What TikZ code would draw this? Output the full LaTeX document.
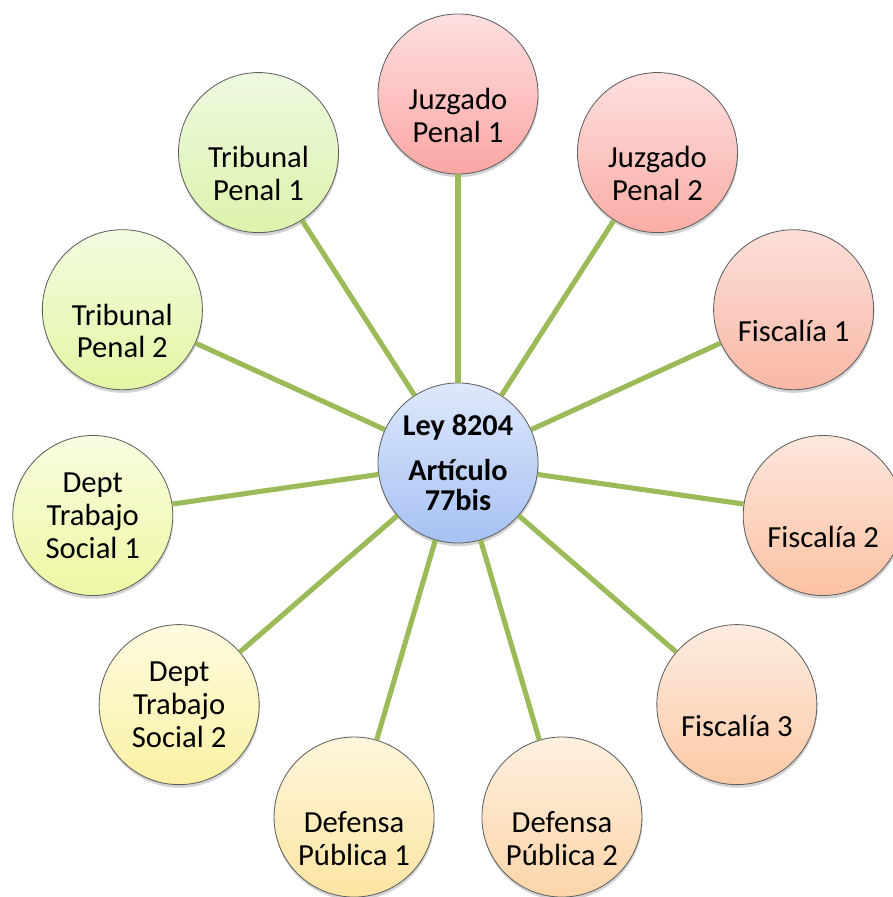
\documentclass[tikz,border=0pt]{standalone}
\usepackage{fontspec}
\setmainfont{Carlito}
\usepackage{tikz}
\usetikzlibrary{shadows}
\definecolor{spokegreen}{HTML}{9BBB59}
\definecolor{hubtop}{HTML}{DDE8FB}
\definecolor{hubbot}{HTML}{A6C1F3}
\definecolor{top0}{HTML}{FDE0E0}\definecolor{bot0}{HTML}{FAA6A3}
\definecolor{top1}{HTML}{FDE0DF}\definecolor{bot1}{HTML}{F9ACA4}
\definecolor{top2}{HTML}{FCDFD9}\definecolor{bot2}{HTML}{F9B8A5}
\definecolor{top3}{HTML}{FDE6DC}\definecolor{bot3}{HTML}{FBC2A3}
\definecolor{top4}{HTML}{FDECE0}\definecolor{bot4}{HTML}{FBCAA6}
\definecolor{top5}{HTML}{FEF0DF}\definecolor{bot5}{HTML}{FCD5A9}
\definecolor{top6}{HTML}{FEF6DC}\definecolor{bot6}{HTML}{FDE5A2}
\definecolor{top7}{HTML}{FEFBE0}\definecolor{bot7}{HTML}{FAF1A3}
\definecolor{top8}{HTML}{F9FCE0}\definecolor{bot8}{HTML}{EEF7A3}
\definecolor{top9}{HTML}{F3FBE0}\definecolor{bot9}{HTML}{E2F6A3}
\definecolor{top10}{HTML}{EEF9E0}\definecolor{bot10}{HTML}{DCF3AC}
\newcommand{\ringr}{369}
\newcommand{\txtdrop}{-0.53cm}

\begin{document}
\begin{tikzpicture}[x=0.025cm, y=0.025cm]
    %\draw[help lines] (0,0) grid (893,897);
    \useasboundingbox (0,0) rectangle (893,897);
    \tikzset{bubble/.style = {circle, minimum size=4cm, inner sep=0pt, draw=gray!75!black, line width=0.6pt,
                              drop shadow={shadow xshift=0.4pt, shadow yshift=-2.2pt, opacity=0.35}},
             spoke/.style = {draw=spokegreen, line width=3.6pt},
             bubbletext/.style = {align=center, font=\fontsize{21.8}{23.4}\selectfont}}
    \node[bubble, top color=hubtop, bottom color=hubbot, bubbletext, font=\fontsize{21.5}{21.4}\selectfont\bfseries]
        (hub) at (458,434) {Ley 8204\\[10.5pt]Artículo\\77bis};
    \foreach \k/\lab/\dy in {0/{Juzgado\\Penal 1}/\txtdrop,
                             1/{Juzgado\\Penal 2}/\txtdrop,
                             2/{Fiscalía 1}/\txtdrop,
                             3/{Fiscalía 2}/\txtdrop,
                             4/{Fiscalía 3}/\txtdrop,
                             5/{Defensa\\Pública 2}/\txtdrop,
                             6/{Defensa\\Pública 1}/\txtdrop,
                             7/{Dept\\Trabajo\\Social 2}/0cm,
                             8/{Dept\\Trabajo\\Social 1}/0cm,
                             9/{Tribunal\\Penal 2}/\txtdrop,
                             10/{Tribunal\\Penal 1}/\txtdrop}{
        \node[bubble, top color=top\k, bottom color=bot\k] (b\k) at ([shift={(90-\k*32.7273:\ringr)}]hub.center) {};
        \node[bubbletext] (t\k) at ([yshift=\dy]b\k.center) {\lab};
    }
    \foreach \k in {0,...,10}
        \draw[spoke] (hub) -- (b\k);
\end{tikzpicture}
\end{document}
